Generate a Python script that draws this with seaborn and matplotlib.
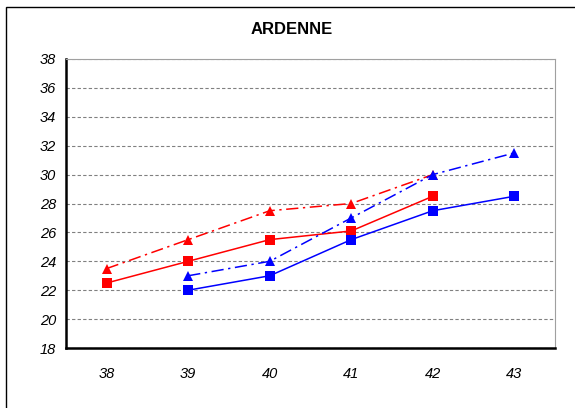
import matplotlib.pyplot as plt
import numpy as np
import pandas as pd
import seaborn as sns
from matplotlib.patches import Rectangle

# 데이터
categories = ["38", "39", "40", "41", "42", "43"]
red_square = [22.5, 24.0, 25.5, 26.1, 28.5, np.nan]
red_triangle = [23.5, 25.5, 27.5, 28.0, 30.0, np.nan]
blue_square = [np.nan, 22.0, 23.0, 25.5, 27.5, 28.5]
blue_triangle = [np.nan, 23.0, 24.0, 27.0, 30.0, 31.5]
y_ticks = list(range(18, 39, 2))

series = {
    "red_square": (red_square, "#ff0000", "s", "-"),
    "red_triangle": (red_triangle, "#ff0000", "^", (0, (8, 3, 1.5, 3))),
    "blue_square": (blue_square, "#0000ff", "s", "-"),
    "blue_triangle": (blue_triangle, "#0000ff", "^", (0, (8, 3, 1.5, 3))),
}

sns.set_style("white")
plt.rcParams["font.family"] = ["Liberation Sans", "DejaVu Sans"]
plt.rcParams["text.color"] = "black"
plt.rcParams["xtick.color"] = "black"
plt.rcParams["ytick.color"] = "black"

fig = plt.figure(figsize=(5.75, 4.08), dpi=100)
ax = fig.add_axes([66 / 575, 60 / 408, 489 / 575, 289 / 408])

xpos = np.arange(len(categories))
for name, (vals, color, marker, ls) in series.items():
    df = pd.DataFrame({"x": xpos, "y": vals}).dropna()
    sns.lineplot(data=df, x="x", y="y", ax=ax, color=color, linestyle=ls,
                 linewidth=1.1, marker=marker, markersize=7, markeredgewidth=0,
                 legend=False)

ax.set_xlim(-0.5, len(categories) - 0.5)
ax.set_ylim(18, 38)
ax.set_yticks(y_ticks)
ax.set_yticklabels([str(t) for t in y_ticks], fontstyle="italic", fontsize=10.5)
ax.yaxis.grid(True, color="#808080", linestyle=(0, (3, 2)), linewidth=0.8)
ax.xaxis.grid(False)

# 카테고리 경계에 눈금, 중앙에 라벨 (엑셀 스타일)
ax.set_xticks(np.arange(-0.5, len(categories), 1.0))
ax.set_xticklabels([])
ax.set_xticks(xpos, minor=True)
ax.set_xticklabels(categories, minor=True, fontstyle="italic", fontsize=10.5)
ax.tick_params(axis="x", which="major", direction="out", length=4, width=1, color="black")
ax.tick_params(axis="x", which="minor", length=0, pad=14)
ax.tick_params(axis="y", direction="out", length=4, width=1, color="black", pad=3)
ax.set_xlabel("")
ax.set_ylabel("")

for side in ["left", "bottom"]:
    ax.spines[side].set_color("black")
    ax.spines[side].set_linewidth(1.8)
for side in ["top", "right"]:
    ax.spines[side].set_color("#a0a0a0")
    ax.spines[side].set_linewidth(0.8)

fig.text(292 / 575, 1 - 30 / 408, "ARDENNE", ha="center", va="center",
         fontsize=12, fontweight="bold", color="black")

# 바깥 테두리
fig.patches.append(Rectangle((6 / 575, -0.05), 1.1, 1 - 7 / 408 + 0.05,
                             transform=fig.transFigure, fill=False,
                             edgecolor="black", linewidth=1.0))

fig.savefig("out.png", dpi=100)
